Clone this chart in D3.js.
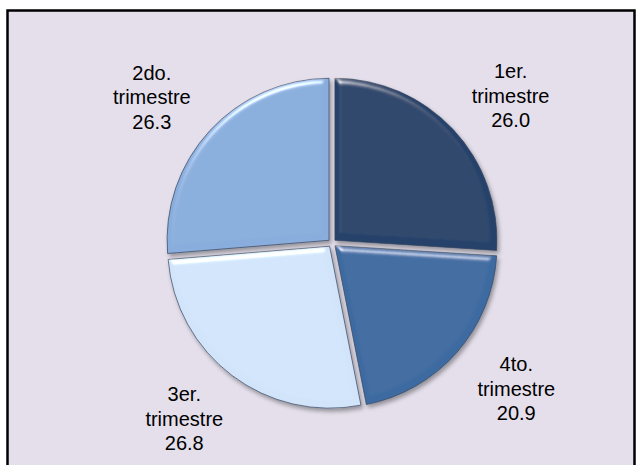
<!DOCTYPE html>
<html lang="es">
<head>
    <meta charset="UTF-8">
    <title>Trimestres</title>
    <script src="https://d3js.org/d3.v7.min.js"></script>
    <style>
        body { margin: 0; background: #ffffff; }
        text { font-family: "Liberation Sans", Arial, sans-serif; }
    </style>
</head>
<body>
    <svg id="chart" width="639" height="465"></svg>

    <script>
        // Data, clockwise from 12 o'clock as drawn
        const quarters = ['1er.', '4to.', '3er.', '2do.'];
        const values = [26.0, 20.9, 26.8, 26.3];
        const sliceColors = ['#26426a', '#3c6aa1', '#d2e4f9', '#89addc'];

        const svg = d3.select('#chart');
        const width = +svg.attr('width');
        const height = +svg.attr('height');

        // Plot frame
        svg.append('rect')
            .attr('x', 7.5).attr('y', 10.5)
            .attr('width', 627).attr('height', height)
            .attr('fill', '#e4dfeb')
            .attr('stroke', '#000')
            .attr('stroke-width', 2.5);

        const defs = svg.append('defs');

        // Soft bevel + drop shadow for the slices
        const f = defs.append('filter')
            .attr('id', 'bevel')
            .attr('x', '-10%').attr('y', '-10%')
            .attr('width', '130%').attr('height', '130%');
        f.append('feGaussianBlur').attr('in', 'SourceAlpha').attr('stdDeviation', 3).attr('result', 'blur');
        const spec = f.append('feSpecularLighting')
            .attr('in', 'blur').attr('surfaceScale', 4)
            .attr('specularConstant', 0.7).attr('specularExponent', 35)
            .attr('lighting-color', '#ffffff').attr('result', 'spec');
        spec.append('feDistantLight').attr('azimuth', 250).attr('elevation', 35);
        f.append('feComposite').attr('in', 'spec').attr('in2', 'SourceAlpha').attr('operator', 'in').attr('result', 'specIn');
        f.append('feComposite').attr('in', 'SourceGraphic').attr('in2', 'specIn')
            .attr('operator', 'arithmetic').attr('k1', 0).attr('k2', 1).attr('k3', 1).attr('k4', 0).attr('result', 'lit');
        f.append('feOffset').attr('in', 'SourceAlpha').attr('dx', 2).attr('dy', 3).attr('result', 'off');
        f.append('feGaussianBlur').attr('in', 'off').attr('stdDeviation', 2).attr('result', 'shBlur');
        f.append('feFlood').attr('flood-color', '#000').attr('flood-opacity', 0.35);
        f.append('feComposite').attr('in2', 'shBlur').attr('operator', 'in').attr('result', 'shadow');
        const merge = f.append('feMerge');
        merge.append('feMergeNode').attr('in', 'shadow');
        merge.append('feMergeNode').attr('in', 'lit');

        const cx = 332, cy = 243;
        const radius = 162;
        const explode = 4;

        const pie = d3.pie().sort(null).value(d => d);
        const arcs = pie(values);
        const arc = d3.arc().innerRadius(0).outerRadius(radius);

        const g = svg.append('g').attr('transform', `translate(${cx},${cy})`);

        g.selectAll('path.slice')
            .data(arcs)
            .enter().append('path')
            .attr('class', 'slice')
            .attr('transform', d => {
                const a = (d.startAngle + d.endAngle) / 2;
                return `translate(${explode * Math.sin(a)},${-explode * Math.cos(a)})`;
            })
            .attr('d', arc)
            .attr('fill', (d, i) => sliceColors[i])
            .attr('stroke', '#34445c')
            .attr('stroke-opacity', 0.7)
            .attr('stroke-width', 1)
            .attr('filter', 'url(#bevel)');

        // Labels: category, "trimestre", value
        const lblRx = 245, lblRy = 218, lblShift = 2, lineH = 24.5;
        const labels = g.selectAll('text.lbl')
            .data(arcs)
            .enter().append('text')
            .attr('class', 'lbl')
            .attr('text-anchor', 'middle')
            .attr('font-size', 20)
            .attr('fill', '#000')
            .attr('transform', d => {
                const a = (d.startAngle + d.endAngle) / 2;
                const x = lblRx * Math.sin(a);
                const y = lblShift - lblRy * Math.cos(a);
                return `translate(${x},${y})`;
            });

        labels.each(function (d, i) {
            const t = d3.select(this);
            const lines = [quarters[i], 'trimestre', values[i].toFixed(1)];
            lines.forEach((s, k) => {
                t.append('tspan')
                    .attr('x', 0)
                    .attr('y', (k - 1) * lineH + 7)
                    .text(s);
            });
        });
    </script>
</body>
</html>
